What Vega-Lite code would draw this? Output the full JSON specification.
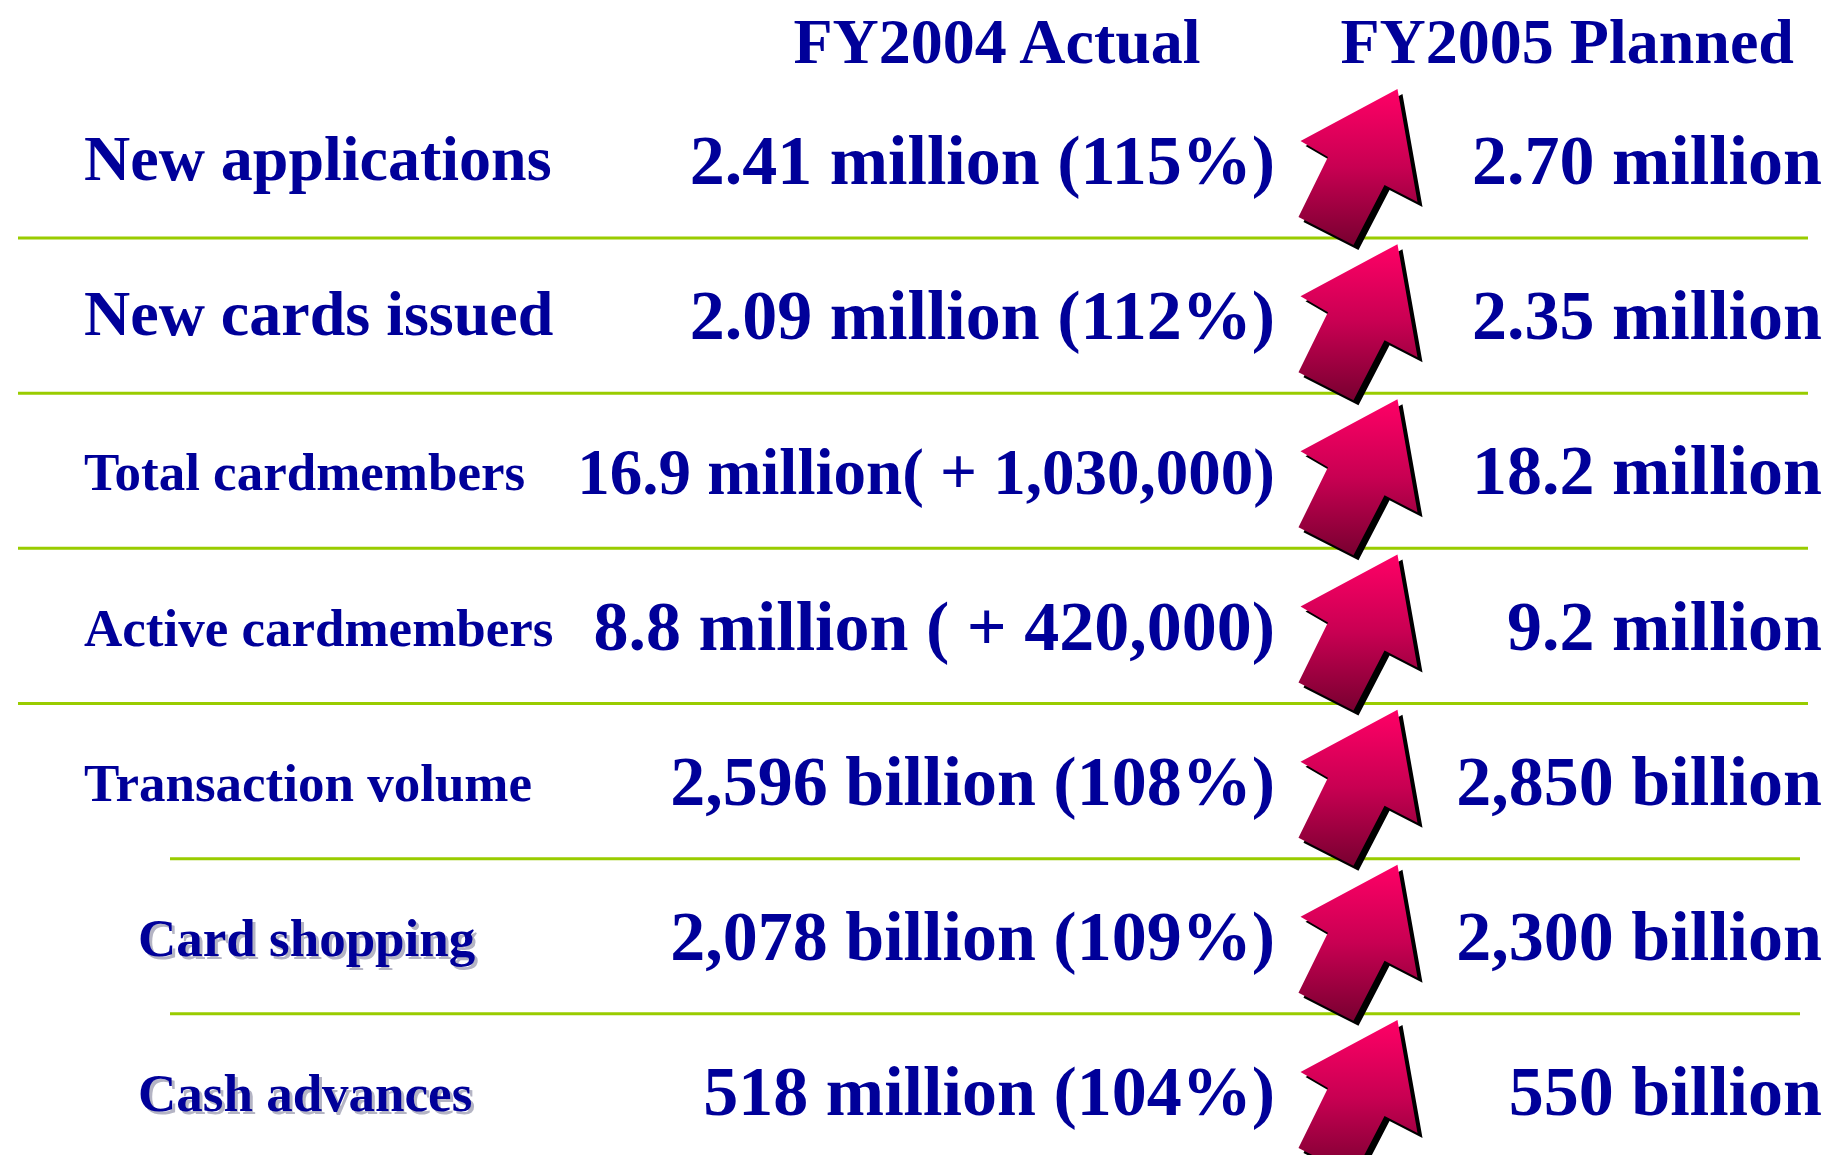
{
  "$schema": "https://vega.github.io/schema/vega-lite/v6.json",
  "width": 1834,
  "height": 1155,
  "padding": 0,
  "autosize": {"type": "none"},
  "background": "white",
  "config": {"view": {"stroke": null}},
  "datasets": {
    "rows": [
      {"item": "New applications", "parent": null, "FY2004 Actual": "2.41 million (115%)", "FY2005 Planned": "2.70 million"},
      {"item": "New cards issued", "parent": null, "FY2004 Actual": "2.09 million (112%)", "FY2005 Planned": "2.35 million"},
      {"item": "Total cardmembers", "parent": null, "FY2004 Actual": "16.9 million( + 1,030,000)", "FY2005 Planned": "18.2 million"},
      {"item": "Active cardmembers", "parent": null, "FY2004 Actual": "8.8 million ( + 420,000)", "FY2005 Planned": "9.2 million"},
      {"item": "Transaction volume", "parent": null, "FY2004 Actual": "2,596 billion (108%)", "FY2005 Planned": "2,850 billion"},
      {"item": "Card shopping", "parent": "Transaction volume", "FY2004 Actual": "2,078 billion (109%)", "FY2005 Planned": "2,300 billion"},
      {"item": "Cash advances", "parent": "Transaction volume", "FY2004 Actual": "518 million (104%)", "FY2005 Planned": "550 billion"}
    ]
  },
  "data": {"name": "rows"},
  "encoding": {
    "y": {
      "field": "item",
      "type": "nominal",
      "scale": {
        "type": "point",
        "padding": 0,
        "domain": ["New applications", "New cards issued", "Total cardmembers", "Active cardmembers", "Transaction volume", "Card shopping", "Cash advances"],
        "range": [184, 1115]
      },
      "axis": null
    }
  },
  "layer": [
    {
      "transform": [{"filter": "indexof(['New applications','New cards issued','Total cardmembers','Active cardmembers'], datum.item) >= 0"}],
      "mark": {"type": "rule", "color": "#99CC00", "strokeWidth": 3, "yOffset": 54},
      "encoding": {"x": {"value": 18}, "x2": {"value": 1808}}
    },
    {
      "transform": [{"filter": "indexof(['Transaction volume','Card shopping'], datum.item) >= 0"}],
      "mark": {"type": "rule", "color": "#99CC00", "strokeWidth": 3, "yOffset": 54},
      "encoding": {"x": {"value": 170}, "x2": {"value": 1800}}
    },
    {
      "mark": {
        "type": "point",
        "shape": "M0.506,-1L0.763,0.449L0.34,0.231L-0.058,1L-0.763,0.641L-0.385,-0.128L-0.737,-0.333Z",
        "filled": true,
        "fill": "#000000",
        "strokeWidth": 0,
        "opacity": 1,
        "size": 24336,
        "xOffset": 88,
        "yOffset": -12
      },
      "encoding": {"x": {"datum": "FY2004 Actual", "type": "nominal"}}
    },
    {
      "mark": {
        "type": "point",
        "shape": "M0.506,-1L0.763,0.449L0.34,0.231L-0.058,1L-0.763,0.641L-0.385,-0.128L-0.737,-0.333Z",
        "filled": true,
        "fill": {
          "gradient": "linear",
          "x1": 0, "y1": 0, "x2": 0, "y2": 1,
          "stops": [
            {"offset": 0, "color": "#FF0066"},
            {"offset": 0.5, "color": "#C80052"},
            {"offset": 1, "color": "#780030"}
          ]
        },
        "strokeWidth": 0,
        "opacity": 1,
        "size": 24336,
        "xOffset": 83,
        "yOffset": -17
      },
      "encoding": {"x": {"datum": "FY2004 Actual", "type": "nominal"}}
    },
    {
      "transform": [{"filter": "datum.parent == null"}],
      "mark": {"type": "text", "align": "left", "baseline": "alphabetic", "font": "Liberation Serif", "fontWeight": "bold", "color": "#000099", "dy": -4},
      "encoding": {
        "x": {"value": 84},
        "text": {"field": "item"},
        "size": {"condition": {"test": "datum.item === 'New applications' || datum.item === 'New cards issued'", "value": 64}, "value": 53}
      }
    },
    {
      "transform": [{"filter": "datum.parent != null"}],
      "mark": {"type": "text", "align": "left", "baseline": "alphabetic", "font": "Liberation Serif", "fontWeight": "bold", "fontSize": 53, "color": "#B4B4C4", "dx": 3, "dy": -1},
      "encoding": {"x": {"value": 138}, "text": {"field": "item"}}
    },
    {
      "transform": [{"filter": "datum.parent != null"}],
      "mark": {"type": "text", "align": "left", "baseline": "alphabetic", "font": "Liberation Serif", "fontWeight": "bold", "fontSize": 53, "color": "#000099", "dy": -4},
      "encoding": {"x": {"value": 138}, "text": {"field": "item"}}
    },
    {
      "transform": [{"fold": ["FY2004 Actual", "FY2005 Planned"], "as": ["period", "figure"]}],
      "mark": {"type": "text", "align": "right", "baseline": "alphabetic", "font": "Liberation Serif", "fontWeight": "bold", "color": "#000099"},
      "encoding": {
        "x": {
          "field": "period",
          "type": "nominal",
          "scale": {"type": "point", "padding": 0, "domain": ["FY2004 Actual", "FY2005 Planned"], "range": [1275, 1822]},
          "axis": {
            "orient": "top",
            "title": null,
            "domain": false,
            "ticks": false,
            "tickSize": 0,
            "grid": false,
            "labelAlign": "left",
            "labelBaseline": "alphabetic",
            "labelAngle": 0,
            "labelOffset": -482,
            "labelPadding": -62,
            "labelFont": "Liberation Serif",
            "labelFontWeight": "bold",
            "labelFontSize": 64,
            "labelColor": "#000099",
            "labelOverlap": false,
            "labelFlush": false,
            "labelBound": false,
            "labelLimit": 0
          }
        },
        "text": {"field": "figure"},
        "size": {"condition": {"test": "datum.item === 'Total cardmembers' && datum.period === 'FY2004 Actual'", "value": 65}, "value": 70}
      }
    }
  ]
}
